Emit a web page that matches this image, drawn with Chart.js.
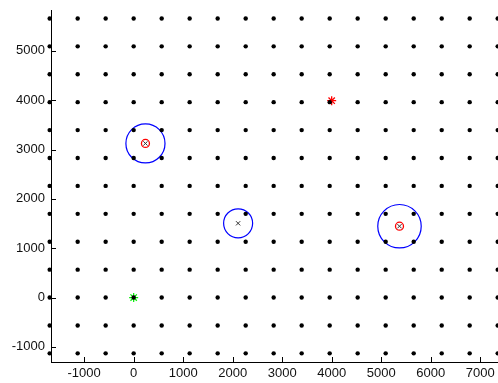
<!DOCTYPE html>
<html>
<head>
<meta charset="utf-8">
<script src="https://cdn.jsdelivr.net/npm/chart.js@4"></script>
<style>
  html, body { margin: 0; padding: 0; background: #fff; }
  canvas { display: block; }
</style>
</head>
<body>
<canvas id="graphique" width="498" height="383"></canvas>
<script>
//---------------------------DONNEES---------------------------------

// grille des capteurs (points noirs)
const grilleX = [-1697, -1131, -566, 0, 566, 1131, 1697, 2263, 2828, 3394, 3960, 4525, 5091, 5657, 6223, 6788, 7354];
const grilleY = [-1131, -566, 0, 566, 1131, 1697, 2263, 2828, 3394, 3960, 4525, 5091, 5657];

// estimations (centre + rayon du cercle bleu)
const estimX = [238, 2110, 5370];
const estimY = [3124, 1505, 1446];
const estimR = [395, 293, 439];

// petits cercles rouges
const rougeX = [238, 5370];
const rougeY = [3124, 1446];

// depart (etoile verte) et cible (etoile rouge)
const departX = [0];
const departY = [0];
const cibleX = [4000];
const cibleY = [3990];

// graduations
const ticksX = [-1000, 0, 1000, 2000, 3000, 4000, 5000, 6000, 7000];
const ticksY = [-1000, 0, 1000, 2000, 3000, 4000, 5000];

//---------------------------------------------------------------------------------

const pointsGrille = [];
grilleY.forEach(y => {
    grilleX.forEach(x => {
        pointsGrille.push({ x: x, y: y });
    });
});

const versPoints = (xs, ys) => xs.map((x, i) => ({ x: x, y: ys[i] }));

// petits traits de graduation vers l'interieur (comme matlab)
const tickInterieur = {
    id: 'tickInterieur',
    afterDatasetsDraw(chart) {
        const c = chart.ctx;
        const sx = chart.scales.x;
        const sy = chart.scales.y;
        const area = chart.chartArea;
        c.save();
        c.strokeStyle = '#000';
        c.lineWidth = 1;
        c.beginPath();
        ticksX.forEach(v => {
            const px = Math.round(sx.getPixelForValue(v)) + 0.5;
            c.moveTo(px, area.bottom);
            c.lineTo(px, area.bottom - 5);
        });
        ticksY.forEach(v => {
            const py = Math.round(sy.getPixelForValue(v)) + 0.5;
            c.moveTo(area.left, py);
            c.lineTo(area.left + 5, py);
        });
        c.stroke();
        c.restore();
    }
};

// on enleve les marges que chart.js ajoute pour les labels du bord
const sansMarge = s => {
    s.paddingLeft = 0;
    s.paddingRight = 0;
    s.paddingTop = 0;
    s.paddingBottom = 0;
};

const ctx = document.getElementById('graphique').getContext('2d');

new Chart(ctx, {
    type: 'scatter',
    plugins: [tickInterieur],
    data: {
        datasets: [
            {
                // grille, dessinee au dessus des autres
                data: pointsGrille,
                pointStyle: 'circle',
                pointRadius: 2.2,
                backgroundColor: '#000',
                borderWidth: 0,
                clip: false
            },
            {
                data: versPoints(estimX, estimY),
                pointStyle: 'crossRot',
                pointRadius: 3,
                borderColor: '#333',
                borderWidth: 1,
                clip: false
            },
            {
                data: versPoints(rougeX, rougeY),
                pointStyle: 'circle',
                pointRadius: 4,
                backgroundColor: 'rgba(0,0,0,0)',
                borderColor: '#ff0000',
                borderWidth: 1.3,
                clip: false
            },
            {
                data: versPoints(estimX, estimY),
                pointStyle: 'circle',
                // rayon en unites du graphique converti en pixels
                pointRadius: function (context) {
                    const s = context.chart.scales.x;
                    if (!s) return 0;
                    const r = estimR[context.dataIndex];
                    return s.getPixelForValue(r) - s.getPixelForValue(0);
                },
                backgroundColor: 'rgba(0,0,0,0)',
                borderColor: '#0000ff',
                borderWidth: 1.2,
                clip: false
            },
            {
                data: versPoints(cibleX, cibleY),
                pointStyle: 'star',
                pointRadius: 4.5,
                borderColor: '#ff0000',
                borderWidth: 1.3,
                clip: false
            },
            {
                data: versPoints(departX, departY),
                pointStyle: 'star',
                pointRadius: 4.5,
                borderColor: '#00ee00',
                borderWidth: 1.2,
                clip: false
            }
        ]
    },
    options: {
        responsive: false,
        animation: false,
        devicePixelRatio: 1,
        layout: {
            autoPadding: false, // sinon chart.js ajoute de la place pour les points
            padding: { top: 10, right: 0, bottom: 0, left: 0 }
        },
        plugins: {
            legend: { display: false },
            tooltip: { enabled: false }
        },
        elements: {
            point: { hoverRadius: 0 }
        },
        scales: {
            x: {
                type: 'linear',
                min: -1670,
                max: 7360,
                afterBuildTicks: s => { s.ticks = ticksX.map(v => ({ value: v })); },
                afterFit: s => { s.height = 21; sansMarge(s); },
                grid: { drawOnChartArea: false, drawTicks: false },
                border: { display: true, color: '#000', width: 1 },
                ticks: {
                    padding: 4,
                    color: '#111',
                    maxRotation: 0,
                    autoSkip: false,
                    font: { family: 'Liberation Sans', size: 13 },
                    callback: v => String(v)
                }
            },
            y: {
                type: 'linear',
                min: -1306,
                max: 5828,
                afterBuildTicks: s => { s.ticks = ticksY.map(v => ({ value: v })); },
                afterFit: s => { s.width = 51; sansMarge(s); },
                grid: { drawOnChartArea: false, drawTicks: false },
                border: { display: true, color: '#000', width: 1 },
                ticks: {
                    padding: 6,
                    color: '#111',
                    autoSkip: false,
                    font: { family: 'Liberation Sans', size: 13 },
                    callback: v => String(v)
                }
            }
        }
    }
});
</script>
</body>
</html>
